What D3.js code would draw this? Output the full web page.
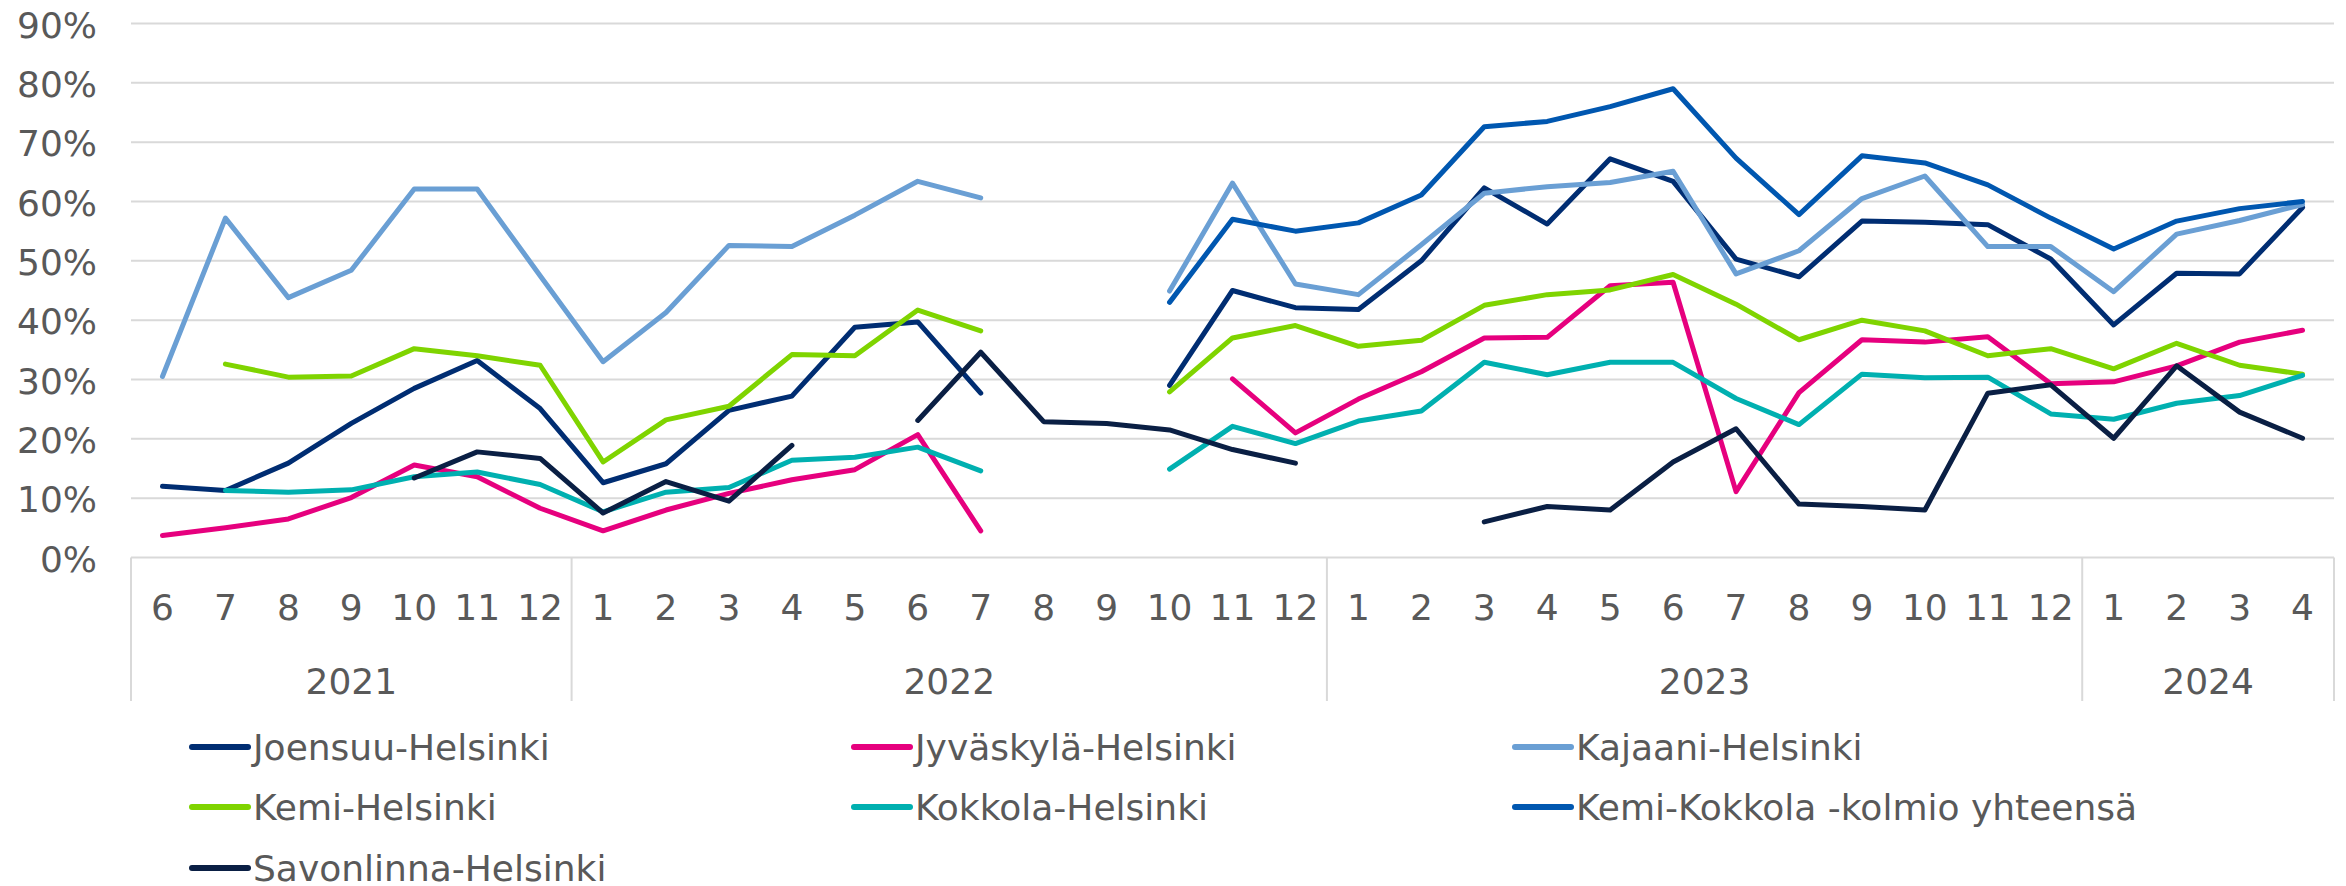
<!DOCTYPE html>
<html>
<head>
<meta charset="utf-8">
<script src="https://cdn.jsdelivr.net/npm/d3@7"></script>
<style>
  body { margin: 0; background: #fff; }
  text { font-family: "DejaVu Sans", Verdana, sans-serif; fill: #595959; }
</style>
</head>
<body>
<div id="chart"></div>
<script>
// months on the x axis (2021-6 ... 2024-4)
const months = ["6","7","8","9","10","11","12",
  "1","2","3","4","5","6","7","8","9","10","11","12",
  "1","2","3","4","5","6","7","8","9","10","11","12",
  "1","2","3","4"];
const years = ["2021", "2022", "2023", "2024"];
const yearMonths = [7, 12, 12, 4];   // how many months each year has in the axis
const yTicks = [0, 10, 20, 30, 40, 50, 60, 70, 80, 90];

const seriesNames = ["Joensuu-Helsinki", "Jyväskylä-Helsinki", "Kajaani-Helsinki",
  "Kemi-Helsinki", "Kokkola-Helsinki", "Kemi-Kokkola -kolmio yhteensä", "Savonlinna-Helsinki"];
const seriesColors = ["#002D72", "#E6007E", "#6A9FD4", "#7FD400", "#00B0B0", "#0057B0", "#0A1F44"];

// values in %, null = no data
const joensuu = [12.0, 11.3, 15.9, 22.6, 28.5, 33.2, 25.1, 12.6, 15.8, 24.8, 27.2, 38.8, 39.7, 27.7, null, null,
  29.0, 45.0, 42.1, 41.8, 50.0, 62.3, 56.2, 67.2, 63.4, 50.3, 47.3, 56.7, 56.5, 56.1, 50.3, 39.2, 47.9, 47.8, 59.0];
const jyvaskyla = [3.7, 5.0, 6.5, 10.1, 15.6, 13.6, 8.3, 4.5, 8.0, 10.8, 13.1, 14.8, 20.7, 4.5, null, null, null,
  30.1, 21.0, 26.7, 31.3, 37.0, 37.1, 45.8, 46.4, 11.1, 27.8, 36.7, 36.3, 37.2, 29.3, 29.6, 32.3, 36.3, 38.3];
const kajaani = [30.5, 57.2, 43.8, 48.4, 62.1, 62.1, 47.5, 33.0, 41.3, 52.6, 52.4, 57.7, 63.4, 60.6, null, null,
  44.9, 63.1, 46.1, 44.3, 52.7, 61.4, 62.5, 63.2, 65.1, 47.8, 51.7, 60.5, 64.3, 52.4, 52.4, 44.8, 54.5, 56.8, 59.5];
const kemi = [null, 32.6, 30.4, 30.6, 35.2, 34.0, 32.4, 16.1, 23.2, 25.5, 34.2, 34.0, 41.7, 38.2, null, null,
  27.9, 37.0, 39.1, 35.6, 36.6, 42.5, 44.3, 45.1, 47.7, 42.7, 36.7, 40.0, 38.2, 34.0, 35.2, 31.8, 36.1, 32.4, 30.9];
const kokkola = [null, 11.3, 11.0, 11.4, 13.6, 14.4, 12.3, 7.7, 11.0, 11.8, 16.4, 16.9, 18.6, 14.6, null, null,
  14.9, 22.1, 19.2, 23.0, 24.7, 32.9, 30.8, 32.9, 32.9, 26.8, 22.4, 30.9, 30.3, 30.4, 24.2, 23.3, 26.0, 27.3, 30.7];
const kemiKokkola = [null, null, null, null, null, null, null, null, null, null, null, null, null, null, null, null,
  43.0, 57.0, 55.0, 56.4, 61.1, 72.6, 73.5, 76.0, 79.0, 67.3, 57.8, 67.7, 66.5, 62.8, 57.2, 52.0, 56.7, 58.8, 60.0];
const savonlinna = [null, null, null, null, 13.4, 17.8, 16.7, 7.5, 12.8, 9.5, 18.9, null, 23.1, 34.6, 22.9, 22.6,
  21.5, 18.2, 15.9, null, null, 6.0, 8.6, 8.0, 16.1, 21.7, 9.0, 8.6, 8.0, 27.7, 29.1, 20.1, 32.3, 24.5, 20.1];

const seriesValues = [joensuu, jyvaskyla, kajaani, kemi, kokkola, kemiKokkola, savonlinna];

var width = 2346, height = 886;
var plot = {left: 131, right: 2334, top: 23.5, bottom: 557.5};

var svg = d3.select("#chart").append("svg")
    .attr("width", width)
    .attr("height", height);

var x = d3.scaleBand()
    .domain(months.map((m, i) => i))
    .range([plot.left, plot.right])
    .padding(0);

var y = d3.scaleLinear()
    .domain([0, 90])
    .range([plot.bottom, plot.top]);

// gridlines
svg.append("g")
  .selectAll("line")
  .data(yTicks)
  .enter().append("line")
    .attr("x1", plot.left)
    .attr("x2", plot.right)
    .attr("y1", d => y(d))
    .attr("y2", d => y(d))
    .attr("stroke", "#d9d9d9")
    .attr("stroke-width", 2);

// y labels
svg.append("g")
  .selectAll("text")
  .data(yTicks)
  .enter().append("text")
    .attr("x", 97)
    .attr("y", d => y(d) + 14)
    .attr("text-anchor", "end")
    .attr("font-size", "36px")
    .text(d => d + "%");

// month labels
svg.append("g")
  .selectAll("text")
  .data(months)
  .enter().append("text")
    .attr("x", (d, i) => x(i) + x.bandwidth() / 2)
    .attr("y", 620)
    .attr("text-anchor", "middle")
    .attr("font-size", "36px")
    .text(d => d);

// year groups with separators
var start = 0;
var groups = years.map((yr, k) => {
  var g = {name: yr, from: start, to: start + yearMonths[k] - 1};
  start += yearMonths[k];
  return g;
});

var sepX = [plot.left].concat(groups.map(g => x(g.to) + x.bandwidth()));
svg.append("g")
  .selectAll("line")
  .data(sepX)
  .enter().append("line")
    .attr("x1", d => d)
    .attr("x2", d => d)
    .attr("y1", plot.bottom)
    .attr("y2", 701)
    .attr("stroke", "#d9d9d9")
    .attr("stroke-width", 2);

svg.append("g")
  .selectAll("text")
  .data(groups)
  .enter().append("text")
    .attr("x", d => (x(d.from) + x(d.to) + x.bandwidth()) / 2)
    .attr("y", 694)
    .attr("text-anchor", "middle")
    .attr("font-size", "36px")
    .text(d => d.name);

// lines
var line = d3.line()
    .defined(d => d != null)
    .x((d, i) => x(i) + x.bandwidth() / 2)
    .y(d => y(d));

svg.append("g")
  .selectAll("path")
  .data(seriesValues)
  .enter().append("path")
    .attr("d", d => line(d))
    .attr("fill", "none")
    .attr("stroke", (d, i) => seriesColors[i])
    .attr("stroke-width", 5)
    .attr("stroke-linejoin", "round")
    .attr("stroke-linecap", "round");

// legend, three columns
var legendCols = [192, 854, 1515];
var legendRows = [747, 807, 868];

var legend = svg.append("g")
  .selectAll("g")
  .data(seriesNames)
  .enter().append("g")
    .attr("transform", (d, i) => "translate(" + legendCols[i % 3] + "," + legendRows[Math.floor(i / 3)] + ")");

legend.append("line")
    .attr("x1", 0)
    .attr("x2", 56)
    .attr("stroke", (d, i) => seriesColors[i])
    .attr("stroke-width", 6)
    .attr("stroke-linecap", "round");

legend.append("text")
    .attr("x", 61)
    .attr("y", 13)
    .attr("font-size", "36px")
    .text(d => d);
</script>
</body>
</html>
